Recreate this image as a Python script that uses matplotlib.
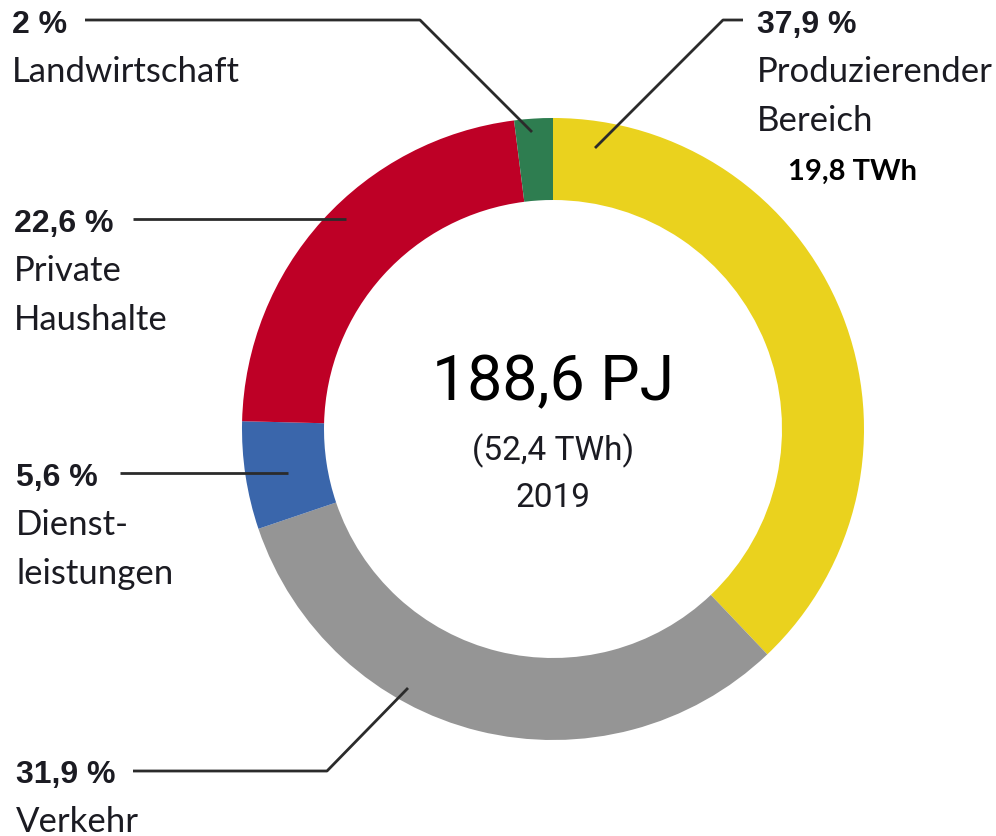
import matplotlib
matplotlib.use("Agg")
import matplotlib.pyplot as plt

# Endenergieverbrauch nach Sektoren 2019
sectors = ["Produzierender\nBereich", "Verkehr", "Dienst-\nleistungen",
           "Private\nHaushalte", "Landwirtschaft"]
shares = [37.9, 31.9, 5.6, 22.6, 2.0]
share_labels = ["37,9 %", "31,9 %", "5,6 %", "22,6 %", "2 %"]
colors = ["#EAD21E", "#959595", "#3A66AB", "#BE0026", "#2E7D50"]

total_label = "188,6 PJ"
total_twh = "(52,4 TWh)"
year = "2019"
extra_label = "19,8 TWh"

W, H = 996, 836
fig = plt.figure(figsize=(W / 100, H / 100), dpi=100)
ax = fig.add_axes([0, 0, 1, 1])

cx, cy, r_out, r_in = 553, 429, 311, 229
# y axis is inverted below, so counterclock in data = clockwise on screen
ax.pie(shares, colors=colors, startangle=-90, counterclock=True,
       center=(cx, cy), radius=r_out, frame=True,
       wedgeprops=dict(width=r_out - r_in, linewidth=0))
ax.set_xlim(0, W)
ax.set_ylim(H, 0)  # pixel-like coords, y down
ax.axis("off")

name_font = ["Lato", "DejaVu Sans"]
pct_font = ["Liberation Sans", "DejaVu Sans"]
ink = "#1b1b22"

# label blocks: x and baseline of the percent line
blocks = {
    "Produzierender\nBereich": (757, 33),
    "Verkehr": (16, 783),
    "Dienst-\nleistungen": (16, 486),
    "Private\nHaushalte": (14, 232),
    "Landwirtschaft": (12, 33),
}
for name, pct in zip(sectors, share_labels):
    x, yb = blocks[name]
    ax.text(x, yb, pct, fontsize=23, fontweight="bold", family=pct_font,
            color=ink, ha="left", va="baseline")
    for i, line in enumerate(name.split("\n")):
        ax.text(x, yb + 49 * (i + 1), line, fontsize=25, family=name_font,
                color=ink, ha="left", va="baseline")

# leader lines
leaders = [
    ([743, 723, 595], [20, 20, 148]),
    ([133, 327, 408], [771, 771, 688]),
    ([120, 288], [473, 473]),
    ([133, 346], [219, 219]),
    ([85, 420, 532], [20, 20, 132]),
]
for xs, ys in leaders:
    ax.plot(xs, ys, color="#2b2b2b", lw=2, solid_capstyle="butt")

ax.text(852, 180, extra_label, fontsize=21, fontweight="bold",
        family=["Lato", "DejaVu Sans"], color="black", ha="center", va="baseline")

ax.text(cx, 400, total_label, fontsize=45, family=["Roboto", "DejaVu Sans"],
        color="black", ha="center", va="baseline")
ax.text(cx, 460, total_twh, fontsize=24, family=["Roboto", "DejaVu Sans"],
        color=ink, ha="center", va="baseline")
ax.text(cx, 507, year, fontsize=24, family=["Roboto", "DejaVu Sans"],
        color=ink, ha="center", va="baseline")

fig.savefig("out.png", dpi=100, facecolor="white")
